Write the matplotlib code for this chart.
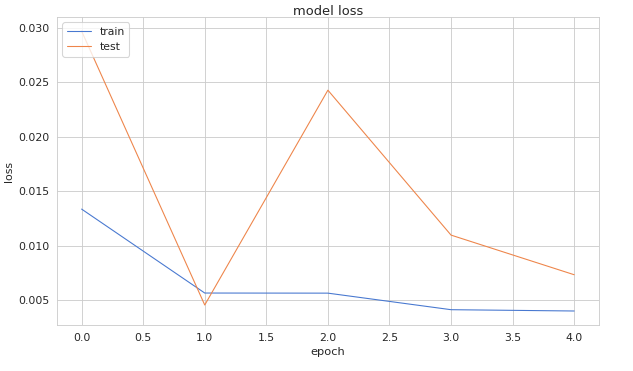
import matplotlib
matplotlib.use('Agg')
import matplotlib.pyplot as plt
import seaborn as sns

epochs = [0, 1, 2, 3, 4]
train_loss = [0.01335, 0.00564, 0.00563, 0.00411, 0.00399]
test_loss = [0.0297, 0.00454, 0.02427, 0.01096, 0.00732]

sns.set_style('whitegrid')
plt.rcParams['font.family'] = ['DejaVu Sans']

# small dpi so the default font sizes come out as in the reference
dpi = 78
fig = plt.figure(figsize=(633 / dpi, 371 / dpi), dpi=dpi)
ax = fig.add_axes([0.090, 0.124, 0.856, 0.830])
colors = sns.color_palette('muted')
ax.plot(epochs, train_loss, color=colors[0], linewidth=1, label='train')
ax.plot(epochs, test_loss, color=colors[1], linewidth=1, label='test')
ax.set_title('model loss', pad=2)
ax.set_xlabel('epoch', fontsize=10.5)
ax.set_ylabel('loss')
ax.legend(loc='upper left', handlelength=2.2)
fig.savefig('out.png', dpi=dpi)
